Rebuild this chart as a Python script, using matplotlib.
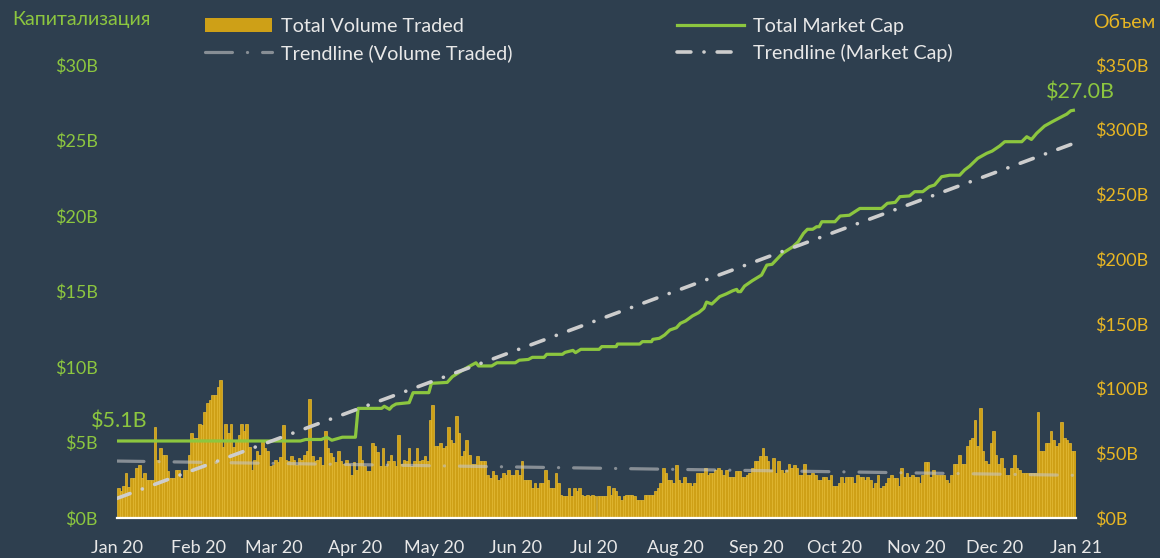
import numpy as np
import matplotlib
matplotlib.use("Agg")
import matplotlib.pyplot as plt
import matplotlib.dates as mdates
from matplotlib.patches import Patch
from matplotlib.lines import Line2D
from datetime import datetime

plt.rcParams["font.family"] = ["Lato", "DejaVu Sans"]
plt.rcParams["lines.scale_dashes"] = False

BG = "#2E3F4F"
GOLD = "#CEA017"
GOLD_EDGE = "#E6BB33"
GOLD_TXT = "#E8B623"
GREEN = "#8CC63F"
WHITE = "#E8E8E8"

# daily volume traded, $B (right axis), one list per month of 2020
vol_jan = [23, 21, 25, 35, 24, 31, 31, 39, 41, 31, 35, 29, 29, 29, 70, 45,
           54, 49, 49, 36, 31, 31, 37, 37, 31, 37, 37, 49, 66, 62, 62]
vol_feb = [73, 72, 82, 89, 91, 95, 95, 101, 107, 55, 73, 66, 73, 55, 60,
           64, 73, 67, 73, 55, 37, 45, 52, 49, 59, 54, 52, 40, 41]
vol_mar = [45, 43, 47, 72, 45, 44, 48, 45, 41, 46, 45, 49, 52, 92, 48, 44,
           45, 47, 41, 67, 54, 50, 47, 43, 52, 44, 42, 45, 42, 33, 43]
vol_apr = [37, 56, 45, 40, 36, 36, 58, 56, 51, 40, 54, 40, 44, 49, 44, 40,
           64, 42, 45, 44, 54, 40, 44, 54, 44, 45, 48, 44, 76, 87]
vol_may = [56, 56, 58, 54, 56, 70, 60, 58, 79, 66, 48, 52, 60, 49, 42, 42,
           48, 44, 44, 44, 33, 31, 36, 33, 29, 31, 35, 33, 37, 33, 33]
vol_jun = [37, 33, 44, 29, 29, 29, 23, 27, 23, 27, 27, 37, 29, 23, 23, 35,
           27, 18, 17, 17, 23, 17, 23, 21, 23, 18, 17, 18, 17, 18]
vol_jul = [17, 17, 17, 17, 17, 25, 18, 23, 21, 17, 14, 17, 18, 18, 18, 17,
           14, 14, 14, 18, 18, 18, 18, 21, 23, 27, 39, 35, 29, 29, 27]
vol_aug = [41, 29, 27, 32, 27, 27, 25, 27, 35, 35, 35, 39, 33, 35, 35, 37,
           39, 37, 33, 37, 32, 32, 32, 36, 36, 32, 32, 33, 35, 39, 44]
vol_sep = [44, 48, 54, 48, 44, 37, 46, 35, 44, 37, 35, 37, 42, 39, 41, 39,
           33, 33, 42, 33, 33, 35, 33, 29, 29, 32, 32, 29, 33, 25]
vol_oct = [25, 27, 32, 27, 32, 32, 32, 27, 33, 32, 32, 29, 32, 29, 23, 27,
           33, 23, 25, 27, 31, 33, 31, 31, 25, 39, 32, 35, 32, 33, 32]
vol_nov = [32, 27, 33, 43, 43, 32, 37, 33, 33, 33, 33, 29, 27, 33, 42, 42,
           49, 42, 42, 56, 60, 62, 76, 56, 85, 52, 44, 42, 58, 67]
vol_dec = [49, 42, 46, 39, 33, 33, 39, 49, 39, 37, 35, 35, 35, 35, 35, 35,
           82, 52, 52, 58, 58, 67, 60, 56, 58, 74, 62, 60, 58, 52, 52]

# total market cap, $B (left axis): day of year -> value
cap_day = [0, 70, 72, 78, 80, 82, 86, 91, 92, 101, 102, 104, 105, 106.5,
           111.5, 113, 119, 120, 126, 128, 132, 134, 137, 138, 143, 145, 152,
           153.5, 157, 158.5, 163, 164, 170, 171, 174, 175, 177, 184, 185,
           190.5, 191, 199.5, 200.5, 204, 204.5, 207, 209, 211, 213.5, 215,
           217, 219.6, 222, 224, 225, 227, 230, 232.5, 235, 236.5, 237, 238,
           239.5, 242.5, 246, 248, 250, 254, 258, 260, 262, 263.5, 265.5, 267,
           268, 269, 274, 276, 279.5, 283.5, 291.8, 294, 297, 298.8, 302.5,
           304.4, 307.5, 310, 312, 314.7, 317.8, 321.6, 323.5, 325.4, 328.5,
           331.9, 334, 336.9, 338.8, 345.3, 347.2, 349, 351, 354, 357, 360.6,
           362.5, 364, 365]
cap_val = [5.1, 5.1, 5.2, 5.2, 5.35, 5.15, 5.35, 5.35, 7.26, 7.26, 7.4, 7.2,
           7.4, 7.55, 7.64, 8.3, 8.3, 8.92, 8.98, 9.36, 9.8, 10.0, 10.28,
           10.07, 10.07, 10.28, 10.28, 10.45, 10.5, 10.64, 10.64, 10.84,
           10.84, 10.97, 11.1, 10.95, 11.17, 11.17, 11.35, 11.35, 11.52,
           11.52, 11.68, 11.68, 11.83, 11.9, 12.12, 12.45, 12.6, 12.89, 13.05,
           13.38, 13.6, 13.89, 14.3, 14.17, 14.66, 14.84, 15.05, 15.14, 14.99,
           14.99, 15.36, 15.72, 16.09, 16.75, 16.8, 17.53, 17.97, 18.3, 18.85,
           19.12, 19.12, 19.29, 19.29, 19.62, 19.62, 20.0, 20.05, 20.5, 20.5,
           20.84, 20.9, 21.28, 21.33, 21.61, 21.61, 21.94, 22.05, 22.6, 22.7,
           22.7, 23.05, 23.3, 23.82, 24.15, 24.3, 24.64, 24.92, 24.92, 25.25,
           25.07, 25.48, 25.96, 26.25, 26.58, 26.75, 26.97, 27.0]

# trendlines (start / end of year)
trend_day = [0, 365]
trend_cap = [1.3, 24.8]
trend_vol = [44, 33]

cap_ticks = [0, 5, 10, 15, 20, 25, 30]
vol_ticks = [0, 50, 100, 150, 200, 250, 300, 350]

volume = (vol_jan + vol_feb + vol_mar + vol_apr + vol_may + vol_jun +
          vol_jul + vol_aug + vol_sep + vol_oct + vol_nov + vol_dec)
base = mdates.date2num(datetime(2020, 1, 1))
x_bar = base + np.arange(len(volume))
x_cap = base + np.array(cap_day)
x_tr = base + np.array(trend_day)

fig = plt.figure(figsize=(11.6, 5.58), dpi=100, facecolor=BG)
axv = fig.add_axes([117 / 1160, 40 / 558, 959 / 1160, 453 / 558])
axv.set_facecolor(BG)
axc = axv.twinx()

VOL_TREND = dict(color="#C4C4C4", alpha=0.6, lw=2.3,
                 dashes=(19.4, 10.8, 0.1, 10.8), dash_capstyle="round")
CAP_TREND = dict(color="#CDCDCD", lw=2.6, dashes=(10, 9.4, 0.1, 9.4),
                 dash_capstyle="round")

axv.bar(x_bar, volume, width=1.0, align="edge", color=GOLD,
        edgecolor=GOLD_EDGE, linewidth=0.5, zorder=2)
axv.plot(x_tr, trend_vol, zorder=3, **VOL_TREND)

axc.plot(x_cap, cap_val, color=GREEN, lw=2.3, zorder=3)
axc.plot(x_tr, trend_cap, zorder=4, **CAP_TREND)

axc.annotate(f"${cap_val[0]:.1f}B", xy=(x_cap[0], cap_val[0]),
             xytext=(1.5, 14), textcoords="offset points", ha="center",
             va="center", color=GREEN, fontsize=15.5)
axc.annotate(f"${cap_val[-1]:.1f}B", xy=(x_cap[-1], cap_val[-1]),
             xytext=(5, 13), textcoords="offset points", ha="center",
             va="center", color=GREEN, fontsize=15.5)

axv.set_xlim(base, mdates.date2num(datetime(2021, 1, 1)))
axv.set_ylim(0, 350)
axc.set_ylim(0, 30)

axv.xaxis.set_major_locator(mdates.MonthLocator())
axv.xaxis.set_major_formatter(mdates.DateFormatter("%b %y"))
axv.tick_params(axis="x", length=0, pad=16, labelsize=13, labelcolor=WHITE)

axv.yaxis.tick_right()
axv.set_yticks(vol_ticks, [f"${v}B" for v in vol_ticks])
axv.tick_params(axis="y", length=0, pad=14, labelsize=13, labelcolor=GOLD_TXT)

axc.yaxis.tick_left()
axc.set_yticks(cap_ticks, [f"${v}B" for v in cap_ticks])
axc.tick_params(axis="y", length=0, pad=14, labelsize=13, labelcolor=GREEN)

for a in (axv, axc):
    for s in a.spines.values():
        s.set_visible(False)
axv.spines["bottom"].set_visible(True)
axv.spines["bottom"].set_color("white")
axv.spines["bottom"].set_linewidth(1.6)

fig.text(12 / 1160, 1 - 19 / 558, "Капитализация", color=GREEN,
         fontsize=14, ha="left", va="center")
fig.text(1155 / 1160, 1 - 22 / 558, "Объем", color=GOLD_TXT,
         fontsize=14, ha="right", va="center")

leg_kw = dict(loc="upper left", frameon=False, fontsize=14.2,
              handlelength=3.4, handletextpad=0.45, labelspacing=0.45,
              borderpad=0, borderaxespad=0, labelcolor=WHITE)
h1 = [Patch(facecolor=GOLD, edgecolor="none"), Line2D([], [], **VOL_TREND)]
fig.legend(h1, ["Total Volume Traded", "Trendline (Volume Traded)"],
           bbox_to_anchor=(205 / 1160, 1 - 18 / 558), **leg_kw)
h2 = [Line2D([], [], color=GREEN, lw=2.3), Line2D([], [], **CAP_TREND)]
fig.legend(h2, ["Total Market Cap", "Trendline (Market Cap)"],
           bbox_to_anchor=(677 / 1160, 1 - 18 / 558), **leg_kw)

fig.savefig("out.png", dpi=100, facecolor=BG)
